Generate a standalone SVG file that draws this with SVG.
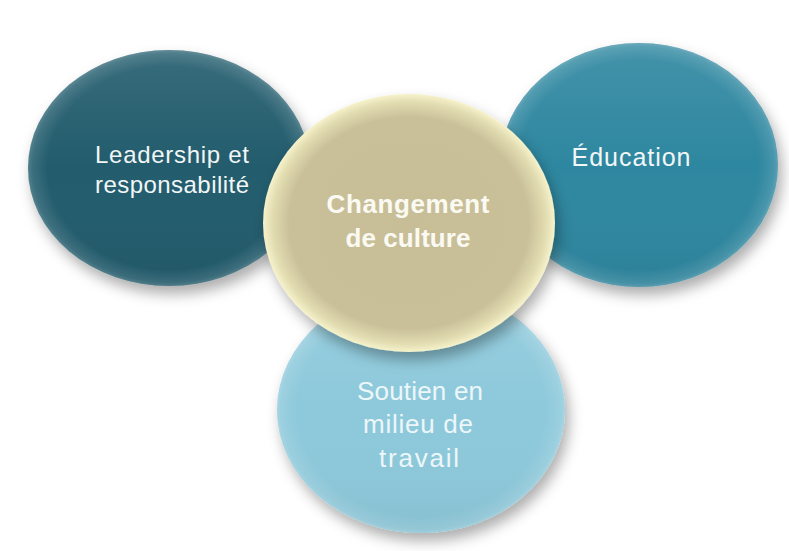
<svg xmlns="http://www.w3.org/2000/svg" width="789" height="551" viewBox="0 0 789 551">
  <defs>
    <filter id="shadow" x="-20%" y="-20%" width="140%" height="150%">
      <feDropShadow dx="4" dy="8" stdDeviation="7" flood-color="#000" flood-opacity="0.32"/>
    </filter>
    <radialGradient id="rim" cx="50%" cy="50%" r="50%">
      <stop offset="0" stop-color="#fff" stop-opacity="0"/>
      <stop offset="0.86" stop-color="#fff" stop-opacity="0"/>
      <stop offset="0.97" stop-color="#fff" stop-opacity="0.12"/>
      <stop offset="1" stop-color="#fff" stop-opacity="0.22"/>
    </radialGradient>
    <linearGradient id="shade" x1="0" y1="0" x2="0" y2="1">
      <stop offset="0" stop-color="#fff" stop-opacity="0.10"/>
      <stop offset="0.5" stop-color="#fff" stop-opacity="0"/>
      <stop offset="1" stop-color="#000" stop-opacity="0.05"/>
    </linearGradient>
    <radialGradient id="beige" cx="50%" cy="50%" r="50%">
      <stop offset="0" stop-color="#C7BE97"/>
      <stop offset="0.82" stop-color="#C9C09A"/>
      <stop offset="0.94" stop-color="#E3DDB2"/>
      <stop offset="1" stop-color="#F6F2CB"/>
    </radialGradient>
  </defs>
  <style>
    .lbl { font-family: "Liberation Sans", Arial, sans-serif; font-size: 24px; fill: #F2F6F7; text-anchor: middle; }
    .big { font-size: 25px; }
    .bot { font-size: 26px; fill: #EDF6F9; }
    .bold { font-weight: bold; font-size: 26px; fill: #FBFAF2; }
    .rim { fill: url(#rim); }
    .shade { fill: url(#shade); }
  </style>
  <rect width="789" height="551" fill="#ffffff"/>

  <g id="node-leadership">
    <ellipse cx="169" cy="168" rx="141" ry="118" fill="#245B6D" filter="url(#shadow)"/>
    <ellipse class="shade" cx="169" cy="168" rx="141" ry="118"/>
    <ellipse class="rim" cx="169" cy="168" rx="141" ry="118"/>
    <text class="lbl" x="172" y="163" textLength="154" lengthAdjust="spacing">Leadership et</text>
    <text class="lbl" x="172" y="193" textLength="154" lengthAdjust="spacing">responsabilité</text>
  </g>

  <g id="node-education">
    <ellipse cx="639" cy="165" rx="139" ry="122" fill="#2E87A0" filter="url(#shadow)"/>
    <ellipse class="shade" cx="639" cy="165" rx="139" ry="122"/>
    <ellipse class="rim" cx="639" cy="165" rx="139" ry="122"/>
    <text class="lbl big" x="631" y="166" textLength="119" lengthAdjust="spacing">Éducation</text>
  </g>

  <g id="node-soutien">
    <ellipse cx="421" cy="410" rx="144" ry="123" fill="#8DC9DB" filter="url(#shadow)"/>
    <ellipse class="shade" cx="421" cy="410" rx="144" ry="123"/>
    <ellipse class="rim" cx="421" cy="410" rx="144" ry="123"/>
    <text class="lbl bot" x="420" y="400" textLength="126" lengthAdjust="spacing">Soutien en</text>
    <text class="lbl bot" x="418" y="433" textLength="110" lengthAdjust="spacing">milieu de</text>
    <text class="lbl bot" x="419" y="467" textLength="80" lengthAdjust="spacing">travail</text>
  </g>

  <g id="node-changement">
    <ellipse cx="409" cy="223" rx="146" ry="129" fill="url(#beige)" filter="url(#shadow)"/>
    <text class="lbl bold" x="408" y="213" textLength="163" lengthAdjust="spacing">Changement</text>
    <text class="lbl bold" x="408" y="247" textLength="125" lengthAdjust="spacing">de culture</text>
  </g>
</svg>
